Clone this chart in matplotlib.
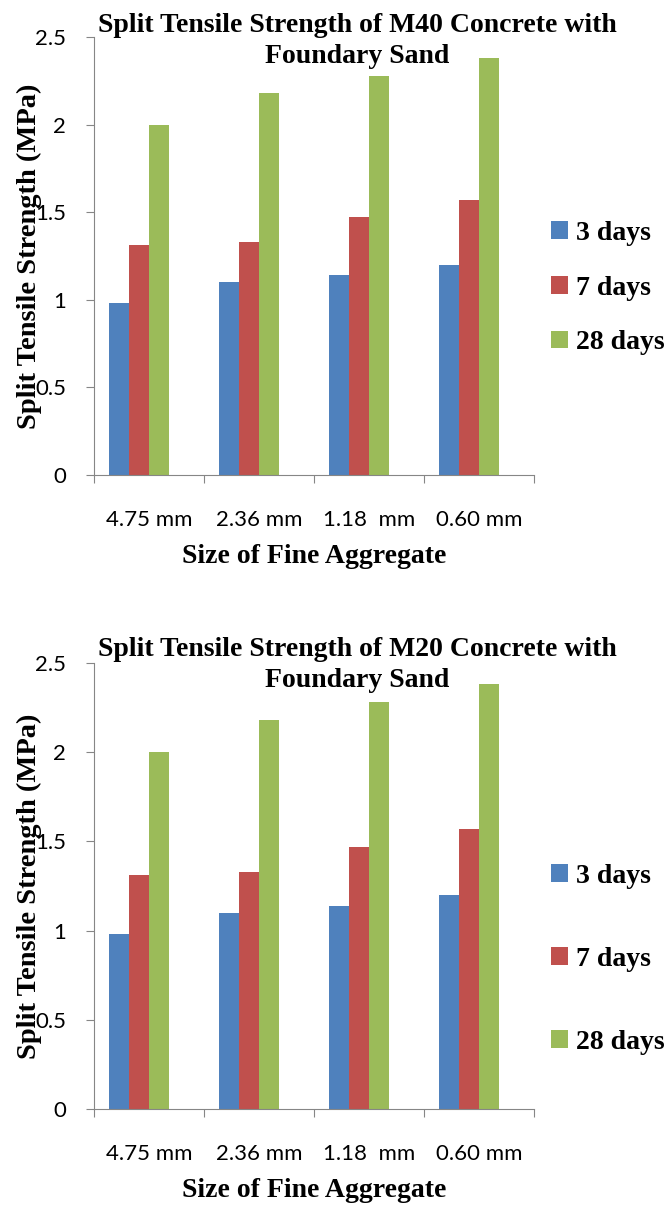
import matplotlib
matplotlib.use('Agg')
import matplotlib.pyplot as plt
import numpy as np

# Data
sizes = ['4.75 mm', '2.36 mm', '1.18  mm', '0.60 mm']
ages = ['3 days', '7 days', '28 days']
m40_3d = [0.98, 1.10, 1.14, 1.20]
m40_7d = [1.31, 1.33, 1.47, 1.57]
m40_28d = [2.00, 2.18, 2.28, 2.38]
m20_3d = [0.98, 1.10, 1.14, 1.20]
m20_7d = [1.31, 1.33, 1.47, 1.57]
m20_28d = [2.00, 2.18, 2.28, 2.38]
colors = ['#4F81BD', '#C0504D', '#9BBB59']
axis_grey = '#868686'

W, H = 664, 1207
fig = plt.figure(figsize=(W / 100, H / 100), dpi=100)
serif = 'Liberation Serif'
sans = 'Lato'


def draw_chart(rect, series, title, title_y, legend_y, legend_gap):
    ax = fig.add_axes(rect)
    x = np.arange(len(sizes))
    bw = 0.18
    # Excel-style layout: room for a 4th (empty) series, so bars sit left of centre
    for i, (vals, c) in enumerate(zip(series, colors)):
        ax.bar(x + (i - 1.5) * bw, vals, bw, color=c, label=ages[i])
    ax.set_xlim(-0.5, len(sizes) - 0.5)
    ax.set_ylim(0, 2.5)
    ax.set_yticks([0, 0.5, 1, 1.5, 2, 2.5])
    ax.set_yticklabels(['0', '0.5', '1', '1.5', '2', '2.5'], fontfamily=sans, fontsize=16)
    ax.set_xticks(np.arange(-0.5, len(sizes) + 0.5, 1))
    ax.set_xticklabels([])
    ax.set_xticks(x, minor=True)
    ax.set_xticklabels(sizes, minor=True, fontfamily=sans, fontsize=16)
    ax.tick_params(axis='x', which='minor', length=0, pad=25)
    ax.tick_params(axis='x', which='major', length=6, color=axis_grey, direction='out')
    ax.tick_params(axis='y', length=6, color=axis_grey, pad=14)
    for s in ['top', 'right']:
        ax.spines[s].set_visible(False)
    for s in ['left', 'bottom']:
        ax.spines[s].set_color(axis_grey)
    ax.set_xlabel('Size of Fine Aggregate', fontfamily=serif, fontweight='bold',
                  fontsize=20, labelpad=10)
    ax.set_ylabel('Split Tensile Strength (MPa)', fontfamily=serif, fontweight='bold',
                  fontsize=20.5)
    ax.yaxis.set_label_coords(-0.118, 0.5)
    fig.text(357 / W, 1 - title_y / H, title, ha='center', va='center',
             fontfamily=serif, fontweight='bold', fontsize=20, linespacing=1.27)
    ax.legend(loc='upper left', bbox_to_anchor=(551 / W, 1 - legend_y / H),
              bbox_transform=fig.transFigure, frameon=False,
              prop={'family': serif, 'weight': 'bold', 'size': 20},
              handlelength=0.6, handleheight=0.6, handletextpad=0.3,
              labelspacing=legend_gap, borderaxespad=0, borderpad=0)
    return ax


draw_chart([94 / W, 1 - 475 / H, 440 / W, 438 / H], [m40_3d, m40_7d, m40_28d],
           'Split Tensile Strength of M40 Concrete with\nFoundary Sand', 41, 221, 1.07)
draw_chart([94 / W, 1 - 1109 / H, 440 / W, 446 / H], [m20_3d, m20_7d, m20_28d],
           'Split Tensile Strength of M20 Concrete with\nFoundary Sand', 665, 864, 2.09)

fig.savefig('out.png', dpi=100)
